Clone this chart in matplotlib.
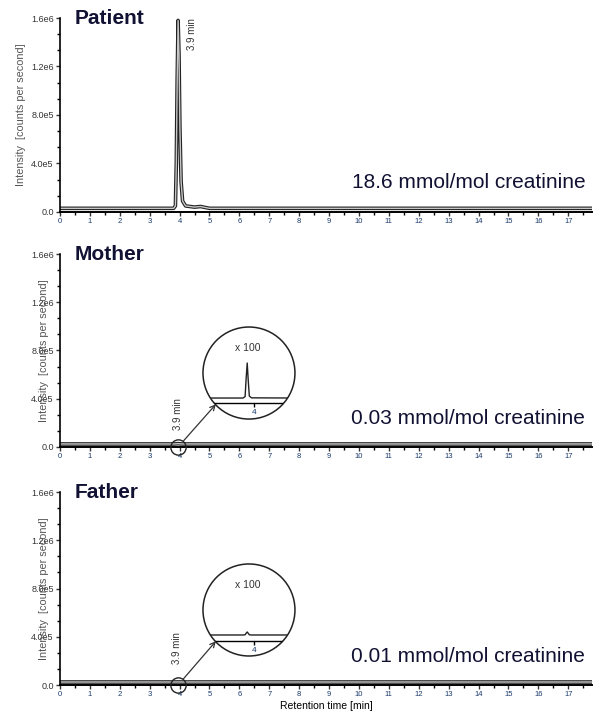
import matplotlib
matplotlib.use('Agg')
import matplotlib.pyplot as plt
from matplotlib.ticker import MultipleLocator, FixedLocator
from matplotlib.patches import Circle, ConnectionPatch

plt.rcParams['font.family'] = ['Liberation Sans', 'DejaVu Sans']

# chromatogram traces (retention time in min, intensity in counts per second)
times = [0, 3.80, 3.86, 3.89, 3.92, 3.95, 3.98, 4.01, 4.05, 4.10, 4.20, 4.50, 4.70, 5.00, 17.8]
patient_int = [3.0e4, 3.0e4, 5.0e4, 4.0e5, 1.1e6, 1.58e6, 1.3e6, 7.0e5, 2.5e5, 9.0e4, 5.0e4, 4.0e4, 4.5e4, 3.0e4, 3.0e4]
mother_int = [2.5e4, 2.5e4, 2.55e4, 2.6e4, 2.7e4, 2.75e4, 2.7e4, 2.6e4, 2.55e4, 2.5e4, 2.5e4, 2.5e4, 2.5e4, 2.5e4, 2.5e4]
father_int = [2.5e4, 2.5e4, 2.5e4, 2.52e4, 2.53e4, 2.54e4, 2.53e4, 2.52e4, 2.5e4, 2.5e4, 2.5e4, 2.5e4, 2.5e4, 2.5e4, 2.5e4]

# zoomed (x 100) views
inset_times = [3.27, 3.84, 3.87, 3.885, 3.90, 3.915, 3.93, 3.96, 4.58]
mother_inset = [500, 500, 650, 2500, 4000, 2200, 700, 520, 500]
father_inset = [600, 600, 620, 780, 900, 760, 620, 600, 600]

names = ['Patient', 'Mother', 'Father']
traces = [patient_int, mother_int, father_int]
results = ['18.6 mmol/mol creatinine', '0.03 mmol/mol creatinine', '0.01 mmol/mol creatinine']
peak_rt = 3.9
ytick_vals = [0, 4e5, 8e5, 1.2e6, 1.6e6]
ytick_labels = ['0.0', '4.0e5', '8.0e5', '1.2e6', '1.6e6']

fig = plt.figure(figsize=(6, 7.2), dpi=100)

panel_boxes = [[0.1, 0.7056, 0.887, 0.2694],
               [0.1, 0.3792, 0.887, 0.268],
               [0.1, 0.0486, 0.887, 0.268]]
label_x = [-0.064, -0.0205, -0.0205]
rt_text_pos = [(4.4, 1.47e6), (3.95, 2.7e5), (3.9, 3.05e5)]

axes = []
for i, name in enumerate(names):
    ax = fig.add_axes(panel_boxes[i])
    axes.append(ax)
    ax.plot(times, traces[i], color='#222222', lw=2.6, solid_joinstyle='round')
    ax.plot(times, traces[i], color='#c8c8c8', lw=1.0, solid_joinstyle='round')
    ax.set_xlim(0, 17.8)
    ax.set_ylim(0, 1.6e6)
    for s in ['top', 'right']:
        ax.spines[s].set_visible(False)
    ax.spines['left'].set_linewidth(1.2)
    ax.spines['bottom'].set_linewidth(1.4)
    ax.xaxis.set_major_locator(MultipleLocator(1))
    ax.xaxis.set_minor_locator(MultipleLocator(0.5))
    ax.yaxis.set_major_locator(FixedLocator(ytick_vals))
    ax.yaxis.set_minor_locator(MultipleLocator(4e5 / 3))
    ax.set_yticklabels(ytick_labels)
    ax.tick_params(axis='both', which='major', labelsize=5.5, length=3, width=1, pad=1.5, colors='#333333')
    ax.tick_params(axis='y', which='major', labelsize=6.5)
    ax.tick_params(axis='both', which='minor', length=2, width=1)
    ax.tick_params(axis='x', labelcolor='#1a3a6a')
    ax.set_ylabel('Intensity  [counts per second]', fontsize=7.8, color='#555555')
    ax.yaxis.set_label_coords(label_x[i], 0.5)
    ax.text(0.028, 1.0, name, transform=ax.transAxes, fontsize=15, fontweight='bold',
            va='center', ha='left', color='#111133')
    ax.text(0.987, 0.15, results[i], transform=ax.transAxes, fontsize=15,
            ha='right', va='center', color='#111133')
    ax.text(rt_text_pos[i][0], rt_text_pos[i][1], f'{peak_rt} min', rotation=90,
            fontsize=7, ha='center', va='center', color='#333333')

axes[2].set_xlabel('Retention time [min]', fontsize=7.5, labelpad=2)

# magnified insets for mother and father
inset_boxes = [[0.3383, 0.418, 0.1533, 0.1278],
               [0.3383, 0.0889, 0.1533, 0.1278]]
inset_data = [mother_inset, father_inset]
inset_ylims = [(-1600, 7600), (-1500, 7700)]
for j in range(2):
    main_ax = axes[j + 1]
    ax_in = fig.add_axes(inset_boxes[j])
    ax_in.set_xlim(3.27, 4.58)
    ax_in.set_ylim(*inset_ylims[j])
    ax_in.patch.set_alpha(0)
    circ = Circle((0.5, 0.5), 0.5, transform=ax_in.transAxes, fill=False,
                  edgecolor='#222222', lw=1.1, clip_on=False)
    ax_in.add_patch(circ)
    ln1, = ax_in.plot(inset_times, inset_data[j], color='#222222', lw=1.0)
    ln1.set_clip_path(circ)
    for s in ['top', 'right', 'left']:
        ax_in.spines[s].set_visible(False)
    ax_in.spines['bottom'].set_position(('data', 0))
    ax_in.spines['bottom'].set_linewidth(1.0)
    ax_in.spines['bottom'].set_clip_path(circ)
    ax_in.set_yticks([])
    ax_in.set_xticks([4])
    ax_in.tick_params(axis='x', labelsize=6, length=3, width=1, pad=1, labelcolor='#1a3a6a')
    ax_in.text(0.49, 0.77, 'x 100', transform=ax_in.transAxes, fontsize=7.5,
               ha='center', va='center', color='#333333')

    main_ax.plot([peak_rt + 0.05], [0], 'o', ms=11, mfc='none', mec='#222222',
                 mew=1.0, clip_on=False, zorder=5)
    con = ConnectionPatch(xyA=(peak_rt + 0.05, 0), coordsA=main_ax.transData,
                          xyB=(0.14, 0.16), coordsB=ax_in.transAxes,
                          arrowstyle='->', shrinkA=6, shrinkB=0,
                          mutation_scale=9, color='#333333', lw=0.9)
    fig.add_artist(con)

plt.savefig('out.png', dpi=100)
